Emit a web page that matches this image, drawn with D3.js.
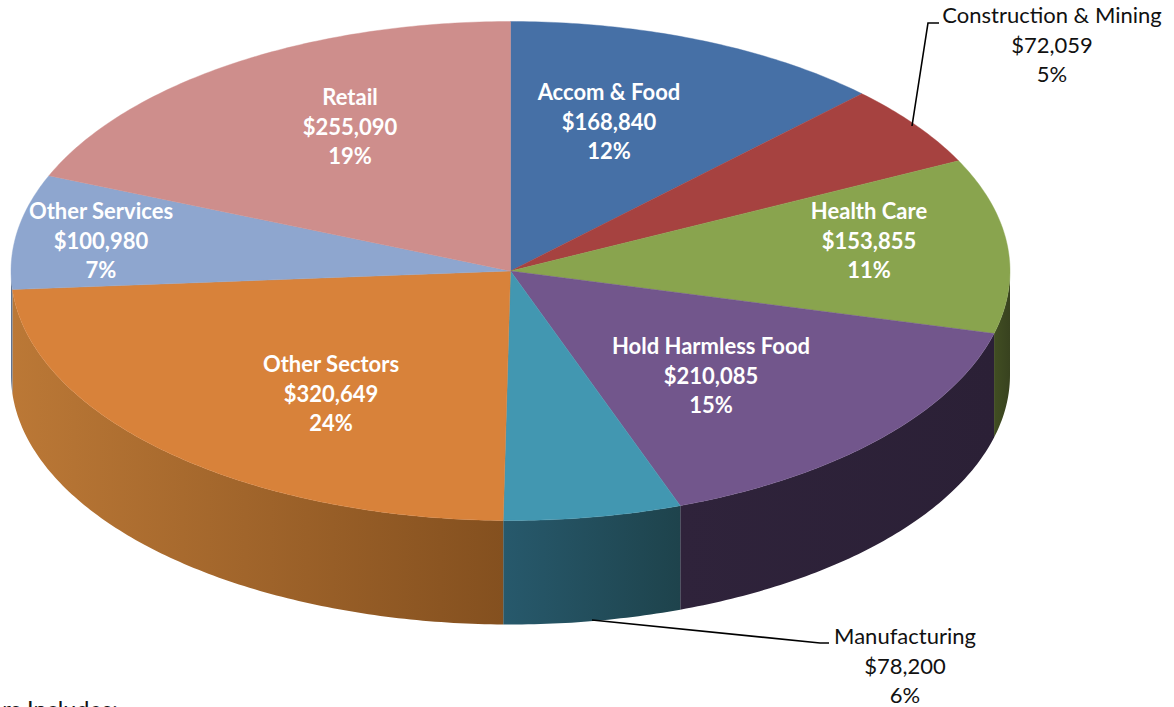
<!DOCTYPE html>
<html><head><meta charset="utf-8">
<style>html,body{margin:0;padding:0;background:#fff;overflow:hidden}svg{display:block}
text{font-family:Lato,"Open Sans",sans-serif}</style>
<script src="https://cdn.jsdelivr.net/npm/d3@7/dist/d3.min.js"></script></head>
<body><script>
const categories=["Accom & Food","Construction & Mining","Health Care","Hold Harmless Food","Manufacturing","Other Sectors","Other Services","Retail"];
const values=[168840,72059,153855,210085,78200,320649,100980,255090];
const percents=["12%","5%","11%","15%","6%","24%","7%","19%"];
const topColors=["#4670a6","#a64240","#89a44e","#72568c","#4297b1","#d8823a","#8ea6cf","#ce8e8c"];
const wallLeft=["#2c4668","#6a2928","#414e22","#2f233b","#27596c","#bb7836","#5f7391","#8a5f5d"];
const wallRight=["#2c4668","#6a2928","#38421f","#2b2036","#1e434c","#84501f","#5f7391","#8a5f5d"];
const labelPos=[[609,92],[1052,15],[869,211],[711,346],[905,636],[331,364],[101,211],[350,97]];
const leaders=[null,[[912,126],[928,23],[939,23]],null,null,[[592,620],[820,643],[829,643]],null,null,null];
const outside=[false,true,false,false,true,false,false,false];

const W=1174,H=707,depth=104;
const svg=d3.select("body").append("svg").attr("width",W).attr("height",H);
const sx=d3.scaleLinear().domain([-1,1]).range([11,1010]);
const sy=d3.scaleLinear().domain([-1,1]).range([21.5,520.5]);
const arcs=d3.pie().sort(null).value(d=>d)(values);
const px=a=>sx(Math.sin(a)),py=a=>sy(-Math.cos(a));
function samples(a0,a1){const n=Math.max(2,Math.ceil((a1-a0)*80));return d3.range(n+1).map(i=>a0+(a1-a0)*i/n);}
const defs=svg.append("defs");
const PI=Math.PI;
// walls
const wallG=svg.append("g");
arcs.forEach((d,i)=>{
  const a0=Math.max(d.startAngle,PI/2),a1=Math.min(d.endAngle,3*PI/2);
  if(a1<=a0)return;
  const id="w"+i,xs=[px(a0),px(a1)];
  const g=defs.append("linearGradient").attr("id",id).attr("gradientUnits","userSpaceOnUse")
    .attr("x1",d3.min(xs)).attr("x2",d3.max(xs)).attr("y1",0).attr("y2",0);
  g.append("stop").attr("offset",0).attr("stop-color",wallLeft[i]);
  g.append("stop").attr("offset",1).attr("stop-color",wallRight[i]);
  const s=samples(a0,a1);
  const pts=s.map(a=>[px(a),py(a)]).concat(s.slice().reverse().map(a=>[px(a),py(a)+depth]));
  wallG.append("path").attr("d",d3.line()(pts)+"Z").attr("fill",`url(#${id})`);
});
// top faces
const topG=svg.append("g");
arcs.forEach((d,i)=>{
  const pts=[[sx(0),sy(0)]].concat(samples(d.startAngle,d.endAngle).map(a=>[px(a),py(a)]));
  topG.append("path").attr("d",d3.line()(pts)+"Z").attr("fill",topColors[i]).attr("stroke",topColors[i]).attr("stroke-width",0.4);
});
// leaders
leaders.forEach(l=>{ if(l) svg.append("path").attr("d",d3.line()(l)).attr("fill","none").attr("stroke","#000").attr("stroke-width",1.6);});
// labels
const fmt=d3.format("$,");
categories.forEach((c,i)=>{
  const t=svg.append("text").attr("text-anchor","middle").attr("font-size",22)
    .attr("font-weight",outside[i]?400:700).attr("fill",outside[i]?"#111":"#fff");
  [c,fmt(values[i]),percents[i]].forEach((s,j)=>{
    t.append("tspan").attr("x",labelPos[i][0]).attr("y",labelPos[i][1]+j*29.5+8).text(s);
  });
});
svg.append("text").attr("x",118).attr("y",718).attr("text-anchor","end").attr("font-size",23.5).attr("fill","#111").text("rs Includes:");
</script></body></html>
